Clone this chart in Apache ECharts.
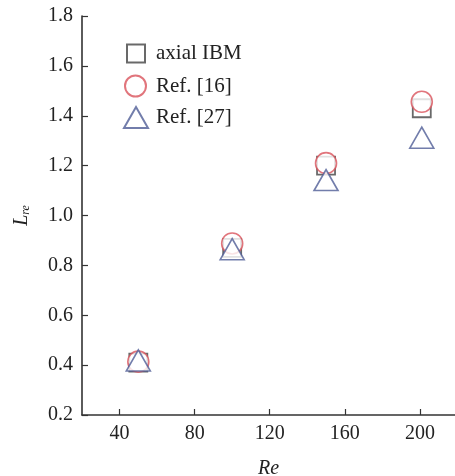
<!DOCTYPE html>
<html>
<head>
<meta charset="utf-8">
<script src="https://cdn.jsdelivr.net/npm/echarts@6/dist/echarts.min.js"></script>
<style>
  html, body { margin: 0; padding: 0; background: #fff; }
  #chart { width: 455px; height: 476px; }
</style>
</head>
<body>
<div id="chart"></div>
<script>
// 数据
const reValues = [50, 100, 150, 201]
const ibmValues = [0.41, 0.87, 1.2, 1.43]
const ref16Values = [0.414, 0.888, 1.21, 1.456]
const ref27Values = [0.419, 0.865, 1.142, 1.312]
const xTicks = [40, 80, 120, 160, 200]
const yTicks = [0.2, 0.4, 0.6, 0.8, 1.0, 1.2, 1.4, 1.6, 1.8]

const font = '"Liberation Serif", "Times New Roman", serif'
const axisColor = '#333'
const ibmColor = '#444'
const ref16Color = '#d9535b'
const ref27Color = '#4f5d96'

function pairs(ys) {
  return reValues.map((x, i) => [x, ys[i]])
}

// one legend per entry so every icon keeps its own size
function legendOf(name, left, top, w, h, pad) {
  return {
    data: [name],
    left: left,
    top: top,
    itemWidth: w,
    itemHeight: h,
    itemGap: 0,
    textStyle: { fontFamily: font, fontSize: 21, color: '#222', padding: [0, 0, 0, pad] },
    selectedMode: false
  }
}

const chart = echarts.init(document.getElementById('chart'))
chart.setOption({
  animation: false,
  backgroundColor: '#fff',
  grid: { left: 82, right: 0, top: 16, bottom: 61, outerBoundsMode: 'none', containLabel: false },
  legend: [
    legendOf('axial IBM', 121, 38, 18, 18, 6),
    legendOf('Ref. [16]', 119, 69.5, 21, 21, 5),
    legendOf('Ref. [27]', 118, 101, 24, 21, 3)
  ],
  xAxis: {
    type: 'value',
    min: 20,
    max: 218.7,
    name: 'Re',
    nameLocation: 'middle',
    nameGap: 44,
    nameTextStyle: { fontFamily: font, fontSize: 20, fontStyle: 'italic', color: '#222' },
    splitLine: { show: false },
    axisLine: { show: true, lineStyle: { color: axisColor, width: 1.6 } },
    axisTick: { show: true, inside: true, length: 6, customValues: xTicks, lineStyle: { color: axisColor, width: 1.2 } },
    axisLabel: { customValues: xTicks, margin: 9, fontFamily: font, fontSize: 20, color: '#222' }
  },
  yAxis: {
    type: 'value',
    min: 0.2,
    max: 1.8,
    name: '{l|L}{s|re}',
    nameLocation: 'middle',
    nameRotate: 90,
    nameGap: 50,
    nameTextStyle: {
      rich: {
        l: { fontFamily: font, fontSize: 20, fontStyle: 'italic', color: '#222' },
        s: { fontFamily: font, fontSize: 12, fontStyle: 'italic', color: '#222', verticalAlign: 'bottom', padding: [8, 0, 0, 0] }
      }
    },
    splitLine: { show: false },
    axisLine: { show: true, lineStyle: { color: axisColor, width: 1.6 } },
    axisTick: { show: true, inside: true, length: 6, customValues: yTicks, lineStyle: { color: axisColor, width: 1.2 } },
    axisLabel: {
      customValues: yTicks,
      margin: 9,
      fontFamily: font,
      fontSize: 20,
      color: '#222',
      formatter: v => v.toFixed(1)
    }
  },
  series: [
    {
      name: 'axial IBM',
      type: 'scatter',
      symbol: 'rect',
      symbolSize: 18,
      data: pairs(ibmValues),
      itemStyle: { color: '#fff', borderColor: ibmColor, borderWidth: 1.8 }
    },
    {
      name: 'Ref. [16]',
      type: 'scatter',
      symbol: 'circle',
      symbolSize: 21,
      data: pairs(ref16Values),
      itemStyle: { color: '#fff', borderColor: ref16Color, borderWidth: 1.6 }
    },
    {
      name: 'Ref. [27]',
      type: 'scatter',
      symbol: 'triangle',
      symbolSize: [24, 21],
      data: pairs(ref27Values),
      itemStyle: { color: '#fff', borderColor: ref27Color, borderWidth: 1.6 }
    }
  ]
})
</script>
</body>
</html>
